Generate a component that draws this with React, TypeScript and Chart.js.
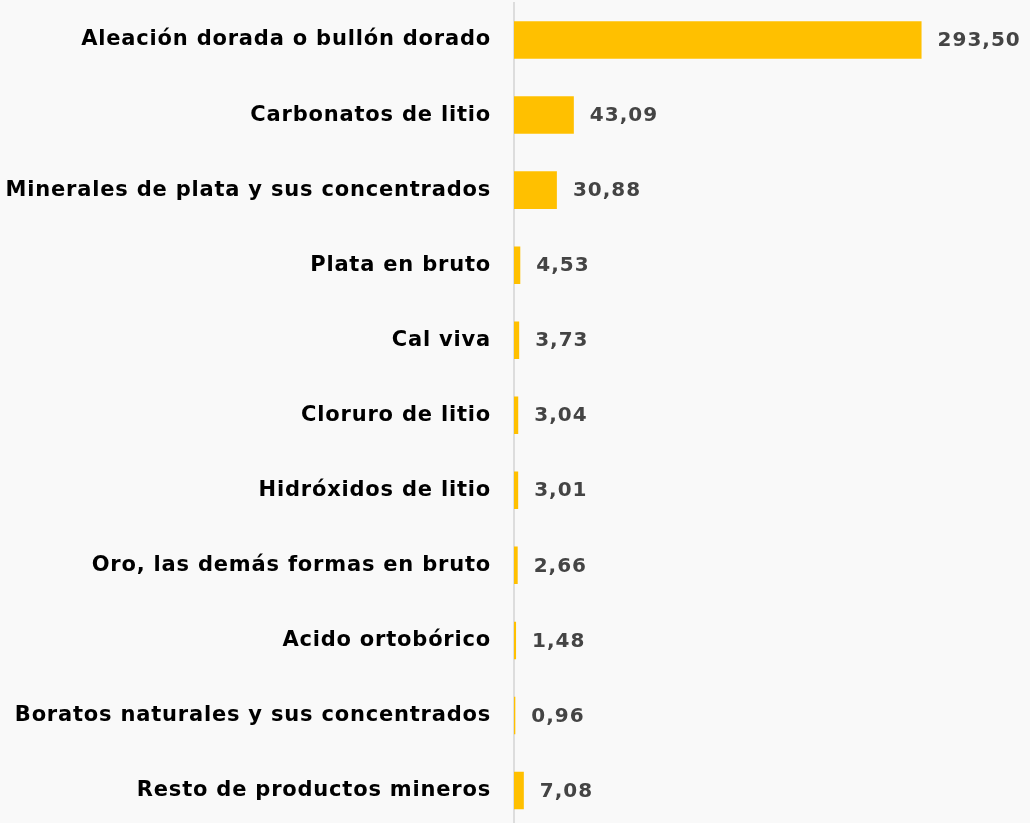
import React, { useEffect, useRef } from "react";
import { Chart, registerables } from "chart.js";

Chart.register(...registerables);

const categories: string[] = [
  "Aleación dorada o bullón dorado",
  "Carbonatos de litio",
  "Minerales de plata y sus concentrados",
  "Plata en bruto",
  "Cal viva",
  "Cloruro de litio",
  "Hidróxidos de litio",
  "Oro, las demás formas en bruto",
  "Acido ortobórico",
  "Boratos naturales y sus concentrados",
  "Resto de productos mineros",
];

const values: number[] = [293.5, 43.09, 30.88, 4.53, 3.73, 3.04, 3.01, 2.66, 1.48, 0.96, 7.08];

const BAR_COLOR = "#FFC000";
const LABEL_FONT = "'DejaVu Sans', sans-serif";

const spacingPlugin = {
  id: "spacing",
  beforeDraw(chart: any) {
    const { ctx, width, height } = chart;
    ctx.fillStyle = "#f9f9f9";
    ctx.fillRect(0, 0, width, height);
    ctx.letterSpacing = "0.8px";
  },
};

const valueLabels = {
  id: "valueLabels",
  afterDatasetsDraw(chart: any) {
    const { ctx } = chart;
    const meta = chart.getDatasetMeta(0);
    ctx.save();
    ctx.letterSpacing = "1px";
    ctx.font = `bold 20px ${LABEL_FONT}`;
    ctx.fillStyle = "#444444";
    ctx.textAlign = "left";
    ctx.textBaseline = "middle";
    meta.data.forEach((bar: any, i: number) => {
      const txt = values[i].toFixed(2).replace(".", ",");
      ctx.fillText(txt, bar.x + 16, bar.y + 1);
    });
    ctx.restore();
  },
};

export default function App() {
  const ref = useRef<HTMLCanvasElement | null>(null);

  useEffect(() => {
    if (!ref.current) return;
    const chart = new Chart(ref.current, {
      type: "bar",
      data: {
        labels: categories,
        datasets: [
          {
            data: values,
            backgroundColor: BAR_COLOR,
            barPercentage: 0.5,
            categoryPercentage: 1,
          },
        ],
      },
      options: {
        indexAxis: "y",
        animation: false,
        responsive: false,
        maintainAspectRatio: false,
        layout: { padding: { top: 2.5, right: 30, bottom: 0, left: 0 } },
        plugins: { legend: { display: false }, tooltip: { enabled: false } },
        scales: {
          x: {
            display: false,
            min: 0,
            max: 350,
            grid: { display: false },
          },
          y: {
            grid: { display: false, drawTicks: false },
            border: { display: true, color: "#dddddd", width: 2 },
            ticks: {
              color: "#000000",
              padding: 23,
              font: { family: LABEL_FONT, weight: "bold", size: 21 },
            },
            afterFit(scale: any) {
              scale.width = 514;
              scale.paddingTop = 0;
              scale.paddingBottom = 0;
            },
          },
        },
      },
      plugins: [spacingPlugin, valueLabels],
    });
    return () => chart.destroy();
  }, []);

  return (
    <div
      style={{
        position: "fixed",
        left: 0,
        top: 0,
        width: 1030,
        height: 823,
        overflow: "hidden",
        background: "#f9f9f9",
      }}
    >
      <canvas ref={ref} width={1030} height={828} style={{ display: "block" }} />
    </div>
  );
}
